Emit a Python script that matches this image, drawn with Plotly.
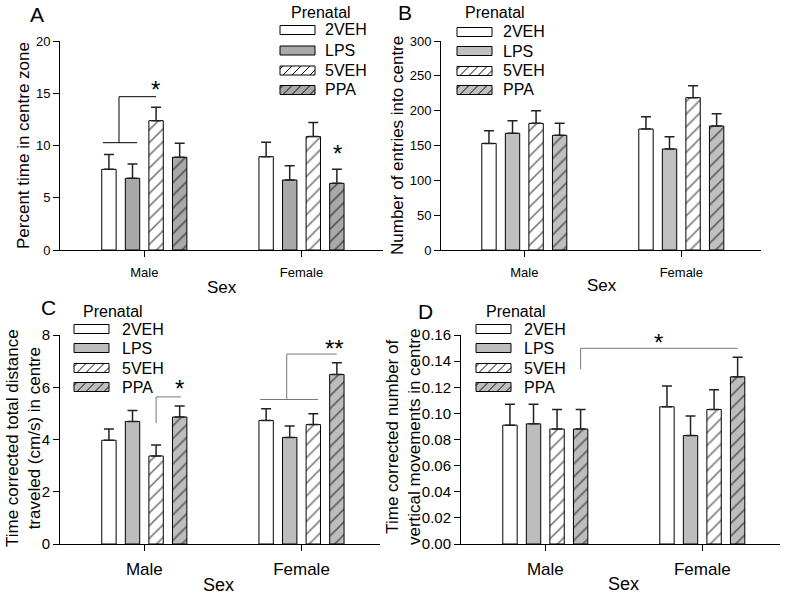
import plotly.graph_objects as go

# ---------------- data ----------------
sexes = ["Male", "Female"]
groups = ["2VEH", "LPS", "5VEH", "PPA"]

A_mean = {"2VEH": [7.72, 8.93], "LPS": [6.86, 6.70], "5VEH": [12.38, 10.85], "PPA": [8.87, 6.38]}
A_sem = {"2VEH": [1.43, 1.37], "LPS": [1.37, 1.37], "5VEH": [1.27, 1.34], "PPA": [1.34, 1.34]}

B_mean = {"2VEH": [153, 173.7], "LPS": [167.5, 145], "5VEH": [181.8, 218.7], "PPA": [164.6, 178]}
B_sem = {"2VEH": [18, 17.7], "LPS": [18.1, 17.7], "5VEH": [18.2, 17.2], "PPA": [17.2, 17.7]}

C_mean = {"2VEH": [3.97, 4.73], "LPS": [4.69, 4.08], "5VEH": [3.37, 4.57], "PPA": [4.86, 6.49]}
C_sem = {"2VEH": [0.43, 0.45], "LPS": [0.42, 0.44], "5VEH": [0.42, 0.42], "PPA": [0.42, 0.45]}

D_mean = {"2VEH": [0.091, 0.105], "LPS": [0.092, 0.083], "5VEH": [0.088, 0.103], "PPA": [0.088, 0.128]}
D_sem = {"2VEH": [0.016, 0.016], "LPS": [0.015, 0.015], "5VEH": [0.015, 0.015], "PPA": [0.015, 0.015]}

W, H = 785, 594
FONT = "Arial, Liberation Sans, sans-serif"


def px(x):
    return x / W


def py(y):
    return 1 - y / H


fig = go.Figure()

# panel geometry (pixels): x0, x1, y_top, y_bottom, male tick x, category spacing
panels = {
    "A": dict(ax="", x0=60, x1=383, yt=41, yb=250, xm=144.3, sp=157.2,
              mean=A_mean, sem=A_sem, gray="#a9a9a9", yr=[0, 20], dt=5, fmt="",
              xtf=13, ytf=13),
    "B": dict(ax="2", x0=441, x1=761, yt=41, yb=250, xm=524.3, sp=157.0,
              mean=B_mean, sem=B_sem, gray="#c0c0c0", yr=[0, 300], dt=50, fmt="",
              xtf=13, ytf=13),
    "C": dict(ax="3", x0=60, x1=380, yt=335, yb=544, xm=144.3, sp=157.2,
              mean=C_mean, sem=C_sem, gray="#bdbdbd", yr=[0, 8], dt=2, fmt="",
              xtf=17, ytf=15),
    "D": dict(ax="4", x0=461, x1=780, yt=335, yb=544, xm=545.3, sp=157.0,
              mean=D_mean, sem=D_sem, gray="#bdbdbd", yr=[0, 0.16], dt=0.02, fmt=".2f",
              xtf=17, ytf=15),
}

for key, p in panels.items():
    xa = "x" + p["ax"]
    ya = "y" + p["ax"]
    for g in groups:
        hatched = g in ("5VEH", "PPA")
        fill = "white" if g in ("2VEH", "5VEH") else p["gray"]
        marker = dict(color=fill, line=dict(color="black", width=1))
        if hatched:
            marker["pattern"] = dict(shape="/", fgcolor="black", bgcolor=fill,
                                     size=9, solidity=0.18, fillmode="overlay")
        fig.add_trace(go.Bar(
            x=sexes, y=p["mean"][g], name=g, xaxis=xa, yaxis=ya,
            marker=marker, showlegend=False,
            error_y=dict(type="data", array=p["sem"][g], arrayminus=[0, 0],
                         symmetric=False, color="#222222", thickness=1.5, width=5),
        ))
    xr = [(p["x0"] - p["xm"]) / p["sp"], (p["x1"] - p["xm"]) / p["sp"]]
    nt = int(round((p["yr"][1] - p["yr"][0]) / p["dt"]))
    tv = [p["yr"][0] + i * p["dt"] for i in range(nt + 1)]
    xkey = "xaxis" + p["ax"]
    ykey = "yaxis" + p["ax"]
    fig.update_layout({
        xkey: dict(domain=[px(p["x0"]), px(p["x1"])], anchor=ya, type="category",
                   range=xr, showline=True, linecolor="black", linewidth=1,
                   ticks="outside", ticklen=6, tickcolor="black", showgrid=False,
                   zeroline=False, automargin=False,
                   tickfont=dict(size=p["xtf"], color="black", family=FONT),
                   ticklabelstandoff=4),
        ykey: dict(domain=[py(p["yb"]), py(p["yt"])], anchor=xa, range=p["yr"],
                   tickvals=tv, tickformat=p["fmt"], showline=True, linecolor="black",
                   linewidth=1, ticks="outside", ticklen=6, tickcolor="black",
                   showgrid=False, zeroline=False, automargin=False,
                   tickfont=dict(size=p["ytf"], color="black", family=FONT)),
    })

fig.update_layout(barmode="group", bargap=0.4, bargroupgap=0.39)

annotations = []
shapes = []


def ann(text, x, y, size, **kw):
    d = dict(text=text, x=px(x), y=py(y), xref="paper", yref="paper", showarrow=False,
             font=dict(size=size, color="black", family=FONT), xanchor="center", yanchor="middle")
    d.update(kw)
    annotations.append(d)


# panel letters
ann("A", 37, 14, 21)
ann("B", 405, 13, 21)
ann("C", 48, 307, 21)
ann("D", 425, 311, 21)

# axis titles
ann("Percent time in centre zone", 23, 146, 17, textangle=-90)
ann("Number of entries into centre", 397, 146, 17, textangle=-90)
ann("Time corrected total distance<br>traveled (cm/s) in centre", 23, 438, 17, textangle=-90)
ann("Time corrected number of<br>vertical movements in centre", 403, 437, 17, textangle=-90)
ann("Sex", 222, 287, 17)
ann("Sex", 602, 286, 17)
ann("Sex", 218, 585, 18)
ann("Sex", 623, 584, 18)


# legends (drawn swatches)
def legend(title_x, title_y, sw_x, text_x, rows_y, gray):
    ann("Prenatal", title_x, title_y, 16)
    for g, yc in zip(groups, rows_y):
        fill = "white" if g in ("2VEH", "5VEH") else gray
        x0, x1, y0, y1 = sw_x, sw_x + 35, yc - 4.5, yc + 4.5
        shapes.append(dict(type="rect", xref="paper", yref="paper",
                           x0=px(x0), x1=px(x1), y0=py(y1), y1=py(y0),
                           fillcolor=fill, line=dict(color="black", width=1)))
        if g in ("5VEH", "PPA"):
            hgt = y1 - y0
            s = x0 - hgt + 3
            while s < x1:
                ax_, ay_, bx_, by_ = s, y1, s + hgt, y0
                if ax_ < x0:
                    ay_ = y1 - (x0 - ax_)
                    ax_ = x0
                if bx_ > x1:
                    by_ = y0 + (bx_ - x1)
                    bx_ = x1
                if bx_ > ax_:
                    shapes.append(dict(type="line", xref="paper", yref="paper",
                                       x0=px(ax_), y0=py(ay_), x1=px(bx_), y1=py(by_),
                                       line=dict(color="black", width=1)))
                s += 9
        ann(g, text_x, yc, 16, xanchor="left")


legend(321, 12, 280, 323, [30, 50.5, 70.5, 90], "#a9a9a9")
legend(495, 12, 457, 501, [32, 51, 71, 90], "#c0c0c0")
legend(113, 311, 74, 120, [329, 348, 368, 387], "#bdbdbd")
legend(516, 311, 476, 522, [329, 348, 368, 387], "#bdbdbd")


# significance brackets (data coordinates)
def seg(axn, x0, y0, x1, y1, color="black"):
    shapes.append(dict(type="line", xref="x" + axn, yref="y" + axn, x0=x0, y0=y0, x1=x1, y1=y1,
                       line=dict(color=color, width=1)))


def star(axn, text, x, y, size=24, shift=-6):
    annotations.append(dict(text=text, x=x, y=y, xref="x" + axn, yref="y" + axn, showarrow=False,
                            font=dict(size=size, color="black", family=FONT), yshift=shift,
                            xanchor="center", yanchor="middle"))


# A
seg("", -0.263, 10.27, -0.046, 10.27)
seg("", -0.161, 10.27, -0.161, 14.67)
seg("", -0.161, 14.67, 0.075, 14.67)
star("", "*", 0.07, 15.7, shift=-4)
star("", "*", 1.232, 9.57, shift=-4)
# C
seg("3", 0.075, 4.63, 0.075, 5.63, "#777777")
seg("3", 0.075, 5.63, 0.233, 5.63, "#777777")
star("3", "*", 0.227, 6.17)
seg("3", 0.736, 5.53, 1.105, 5.53, "#777777")
seg("3", 0.906, 5.53, 0.906, 7.27, "#777777")
seg("3", 0.906, 7.27, 1.224, 7.27, "#777777")
star("3", "**", 1.213, 7.71)
# D
seg("4", 0.225, 0.1337, 0.225, 0.1498, "#777777")
seg("4", 0.225, 0.1498, 1.225, 0.1498, "#777777")
star("4", "*", 0.72, 0.1585)

fig.update_layout(
    width=W, height=H, margin=dict(l=0, r=0, t=0, b=0, pad=0),
    paper_bgcolor="white", plot_bgcolor="white",
    annotations=annotations, shapes=shapes,
    font=dict(family=FONT, color="black"),
)

fig.write_html("out.html", config={"displayModeBar": False},
               post_script="document.body.style.margin='0';document.body.style.padding='0';")
